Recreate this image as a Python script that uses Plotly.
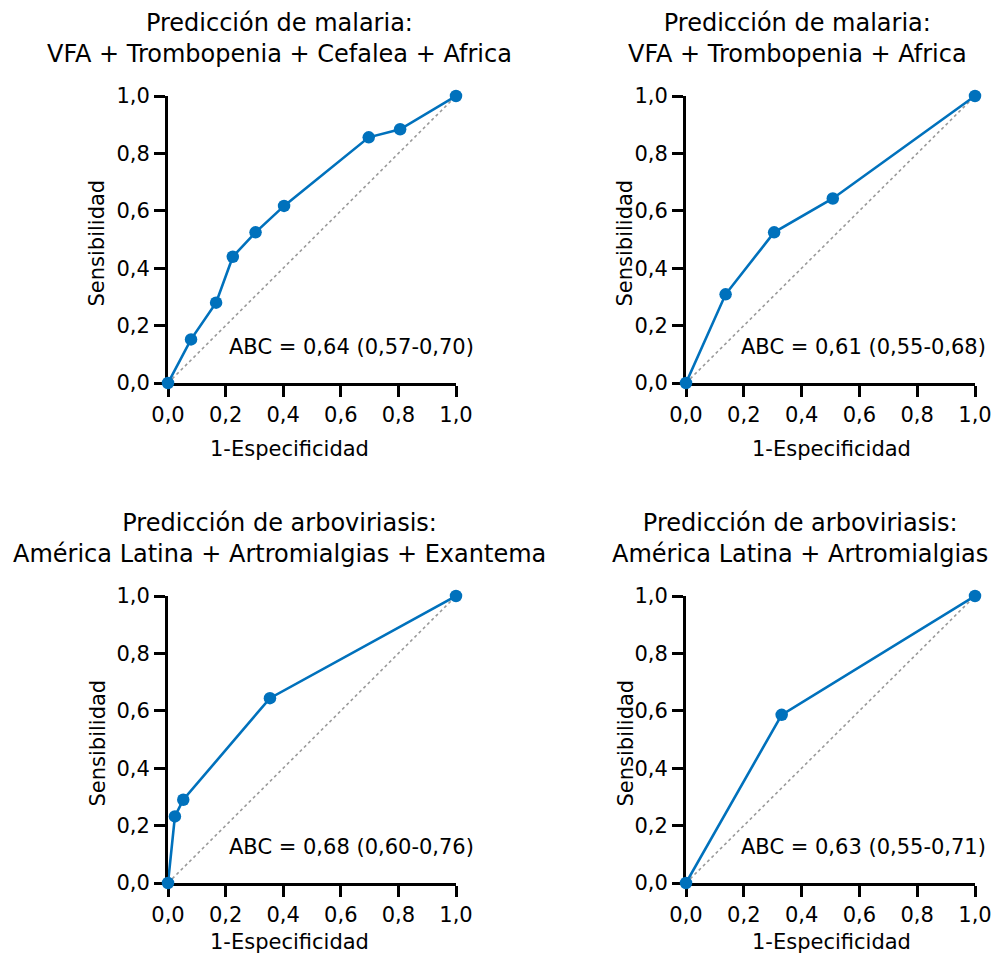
import plotly.graph_objects as go

W, H = 996, 958

# ---- data ----
titles = [
    "Predicción de malaria:<br>VFA + Trombopenia + Cefalea + Africa",
    "Predicción de malaria:<br>VFA + Trombopenia + Africa",
    "Predicción de arboviriasis:<br>América Latina + Artromialgias + Exantema",
    "Predicción de arboviriasis:<br>América Latina + Artromialgias",
]
abc_labels = [
    "ABC = 0,64 (0,57-0,70)",
    "ABC = 0,61 (0,55-0,68)",
    "ABC = 0,68 (0,60-0,76)",
    "ABC = 0,63 (0,55-0,71)",
]
fpr_malaria4 = [0, 0.08, 0.167, 0.225, 0.304, 0.403, 0.697, 0.806, 1.0]
sens_malaria4 = [0, 0.152, 0.28, 0.44, 0.525, 0.617, 0.856, 0.884, 1.0]
fpr_malaria3 = [0, 0.137, 0.305, 0.508, 1.0]
sens_malaria3 = [0, 0.309, 0.525, 0.643, 1.0]
fpr_arbo3 = [0, 0.024, 0.053, 0.354, 1.0]
sens_arbo3 = [0, 0.232, 0.29, 0.644, 1.0]
fpr_arbo2 = [0, 0.331, 1.0]
sens_arbo2 = [0, 0.586, 1.0]
tick_vals = [0, 0.2, 0.4, 0.6, 0.8, 1.0]
tick_text = ["0,0", "0,2", "0,4", "0,6", "0,8", "1,0"]
diag = [0, 1]

curves = [(fpr_malaria4, sens_malaria4), (fpr_malaria3, sens_malaria3),
          (fpr_arbo3, sens_arbo3), (fpr_arbo2, sens_arbo2)]

# ---- layout geometry (pixels) ----
FONT = "DejaVu Sans"
BLUE = "#0071BC"
panels = [
    # x0, x1, ytop, ybot
    (168, 456, 96, 383),
    (686, 975, 96, 383),
    (168, 456, 596, 883),
    (686, 975, 596, 883),
]
title_cx = [279, 797, 279, 800]
title_cy = [38, 38, 538, 538]
ytitle_x = [97, 625, 97, 625]
xtitle_cx = [289, 831, 289, 831]
xtitle_cy = [449, 449, 942, 942]

fig = go.Figure()
layout = dict(
    width=W, height=H, autosize=False,
    margin=dict(l=0, r=0, t=0, b=0, pad=0, autoexpand=False),
    paper_bgcolor="white", plot_bgcolor="white",
    showlegend=False,
    font=dict(family=FONT, size=21, color="black"),
)
annotations = []
for i, ((x0, x1, yt, yb), (fx, sy)) in enumerate(zip(panels, curves)):
    n = "" if i == 0 else str(i + 1)
    xa, ya = "x" + n, "y" + n
    axis_common = dict(
        range=[0, 1], showgrid=False, zeroline=False,
        showline=True, linecolor="black", linewidth=3,
        ticks="outside", ticklen=11, tickwidth=3, tickcolor="black",
        tickvals=tick_vals, ticktext=tick_text,
        tickfont=dict(family=FONT, size=21, color="black"),
        layer="below traces", fixedrange=True, automargin=False,
    )
    layout["xaxis" + n] = dict(axis_common, domain=[x0 / W, x1 / W], anchor=ya)
    layout["yaxis" + n] = dict(axis_common, domain=[1 - yb / H, 1 - yt / H], anchor=xa)

    fig.add_trace(go.Scatter(x=diag, y=diag, mode="lines", xaxis=xa, yaxis=ya,
                             line=dict(color="#9a9a9a", width=1.6, dash="dot"),
                             hoverinfo="skip", cliponaxis=False))
    fig.add_trace(go.Scatter(x=fx, y=sy, mode="lines+markers", xaxis=xa, yaxis=ya,
                             line=dict(color=BLUE, width=2.6),
                             marker=dict(color=BLUE, size=12.5),
                             cliponaxis=False))

    annotations.append(dict(xref=xa, yref=ya, x=0.205 if i % 2 == 0 else 0.184, y=0.125,
                            text=abc_labels[i], showarrow=False, xanchor="left",
                            yanchor="middle", font=dict(family=FONT, size=21, color="black")))
    annotations.append(dict(xref="paper", yref="paper", x=title_cx[i] / W, y=1 - title_cy[i] / H,
                            text=titles[i], showarrow=False, xanchor="center", yanchor="middle",
                            align="center", font=dict(family=FONT, size=24, color="black")))
    annotations.append(dict(xref="paper", yref="paper", x=ytitle_x[i] / W,
                            y=1 - ((yt + yb) / 2 + 4) / H, text="Sensibilidad", textangle=-90,
                            showarrow=False, xanchor="center", yanchor="middle",
                            font=dict(family=FONT, size=21, color="black")))
    annotations.append(dict(xref="paper", yref="paper", x=xtitle_cx[i] / W,
                            y=1 - xtitle_cy[i] / H, text="1-Especificidad",
                            showarrow=False, xanchor="center", yanchor="middle",
                            font=dict(family=FONT, size=21, color="black")))

layout["annotations"] = annotations
fig.update_layout(**layout)
fig.write_html(
    "out.html",
    config={"displayModeBar": False, "staticPlot": True},
    post_script="document.body.style.margin='0';document.body.style.overflow='hidden';",
)
